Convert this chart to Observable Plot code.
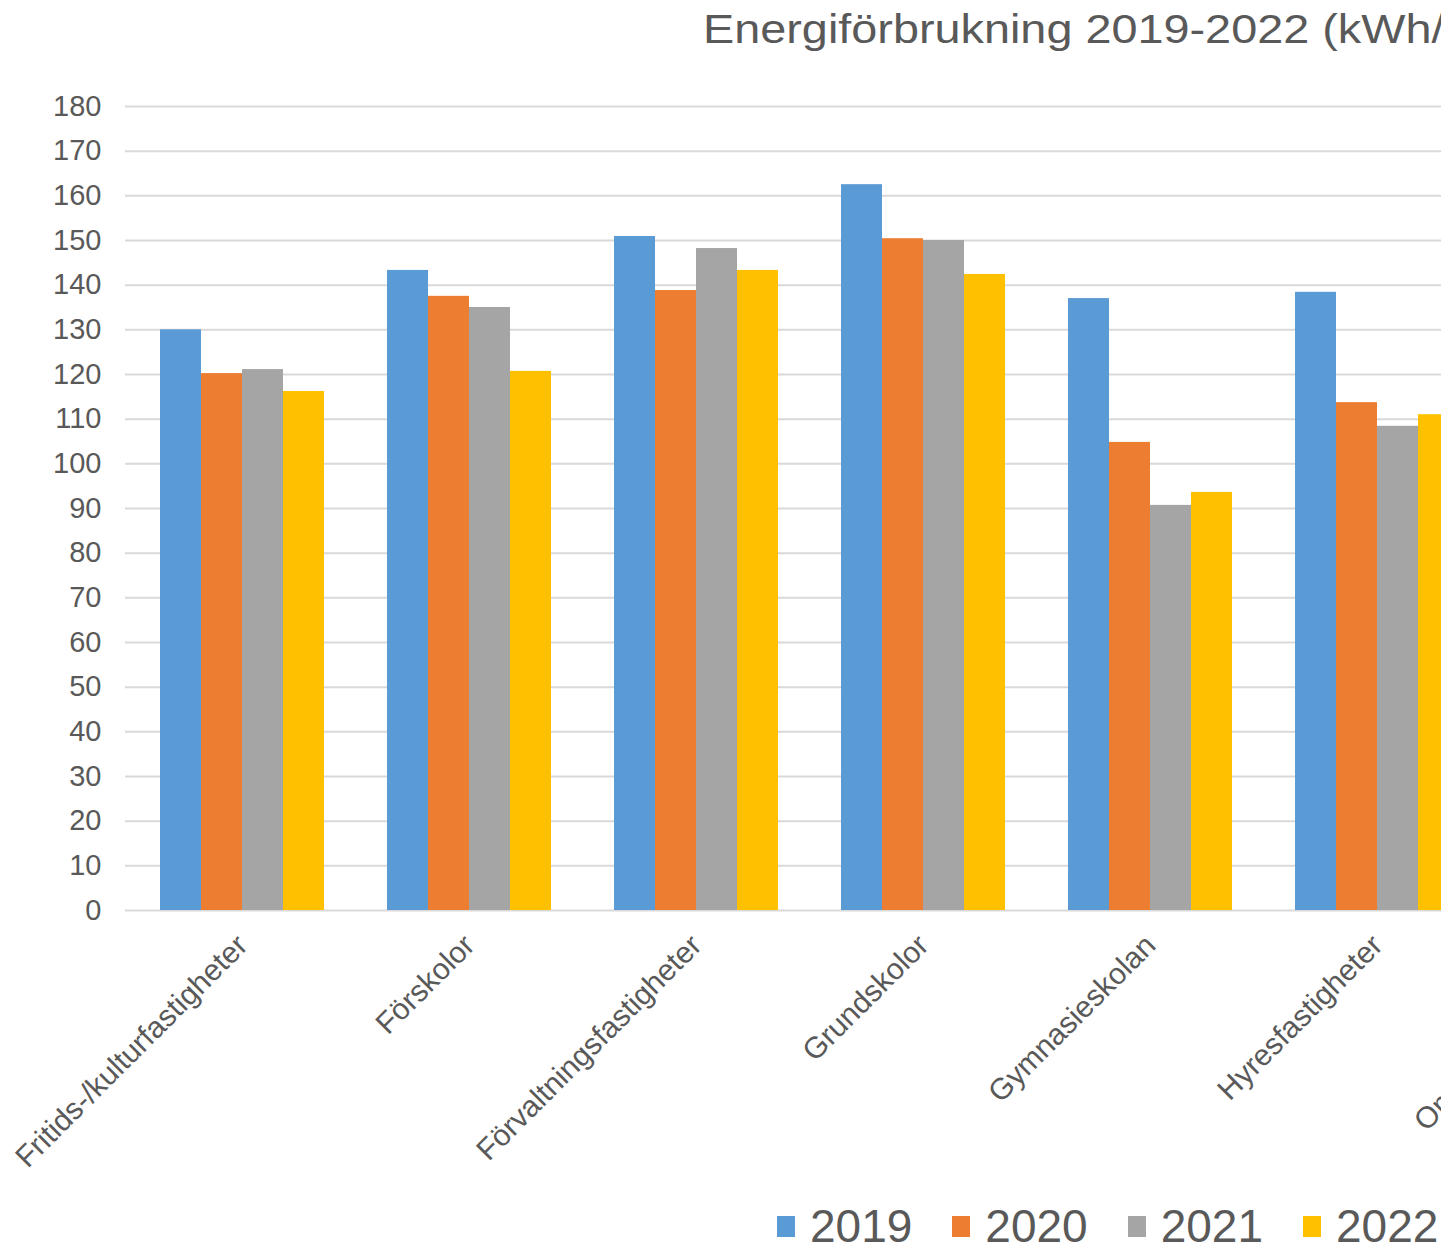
<!DOCTYPE html>
<html>
<head>
<meta charset="utf-8">
<script src="https://cdn.jsdelivr.net/npm/d3@7"></script>
<script src="https://cdn.jsdelivr.net/npm/@observablehq/plot@0.6"></script>
<style>
  html, body { margin: 0; padding: 0; background: #ffffff; }
  #wrap { position: relative; width: 1441px; height: 1249px; overflow: hidden; background: #ffffff; font-family: "Liberation Sans", Arial, sans-serif; }
  #wrap svg { position: absolute; left: 0; top: 0; }
  #title { position: absolute; left: 703px; top: 9px; font-size: 40px; line-height: 1; color: #595959; white-space: nowrap; transform: scaleX(1.17); transform-origin: 0 0; }
  #legend { position: absolute; left: 777px; top: 1203px; display: flex; align-items: center; white-space: nowrap; }
  .item { display: flex; align-items: center; margin-right: 40px; }
  .sw { width: 18px; height: 21px; margin-right: 15px; }
  .lab { font-size: 46px; line-height: 1; color: #595959; }
</style>
</head>
<body>
<div id="wrap">
  <div id="title">Energiförbrukning 2019-2022 (kWh/m²)</div>
  <div id="legend"></div>
</div>
<script>
const categories = ["Fritids-/kulturfastigheter", "Förskolor", "Förvaltningsfastigheter", "Grundskolor", "Gymnasieskolan", "Hyresfastigheter", "Omsorgsfastigheter"];
const years = ["2019", "2020", "2021", "2022"];
const colors = ["#5B9BD5", "#ED7D31", "#A5A5A5", "#FFC000"];
const v2019 = [130.0, 143.3, 150.9, 162.5, 137.0, 138.4];
const v2020 = [120.2, 137.5, 138.8, 150.4, 104.8, 113.7];
const v2021 = [121.1, 135.0, 148.2, 150.0, 90.7, 108.4];
const v2022 = [116.2, 120.7, 143.3, 142.4, 93.6, 111.0];
const yTicks = d3.range(0, 181, 10);

const series = [v2019, v2020, v2021, v2022];
const data = [];
series.forEach((vals, j) => vals.forEach((v, i) => data.push({category: categories[i], year: years[j], value: v})));

const W = 1760, H = 1180;
const common = {
  width: W, height: H,
  marginLeft: 125, marginRight: 39, marginTop: 106, marginBottom: 270,
  style: {fontFamily: "Liberation Sans, Arial, sans-serif", fontSize: "29px", color: "#595959", background: "none", maxWidth: "none", overflow: "visible"}
};

const back = Plot.plot({
  ...common,
  x: {axis: null},
  y: {domain: [0, 180], ticks: yTicks, tickSize: 0, tickPadding: 24, label: null, tickFormat: d => String(d)},
  marks: [
    Plot.ruleY(yTicks, {stroke: "#d9d9d9", strokeWidth: 2})
  ]
});

const front = Plot.plot({
  ...common,
  style: {...common.style, fontSize: "30px"},
  facet: {data: data, x: "category"},
  fx: {domain: categories, paddingInner: 0.27, paddingOuter: 0.145, axis: "bottom", tickRotate: -45, tickSize: 0, tickPadding: 30, label: null},
  x: {domain: years, axis: null, padding: 0},
  y: {domain: [0, 180], axis: null},
  color: {domain: years, range: colors},
  marks: [
    Plot.barY(data, {x: "year", y: "value", fill: "year"})
  ]
});

const wrap = document.getElementById("wrap");
wrap.insertBefore(back, wrap.firstChild);
wrap.insertBefore(front, back.nextSibling);

const legend = document.getElementById("legend");
years.forEach((y, i) => {
  const it = document.createElement("div");
  it.className = "item";
  it.innerHTML = `<div class="sw" style="background:${colors[i]}"></div><div class="lab">${y}</div>`;
  legend.appendChild(it);
});
</script>
</body>
</html>
